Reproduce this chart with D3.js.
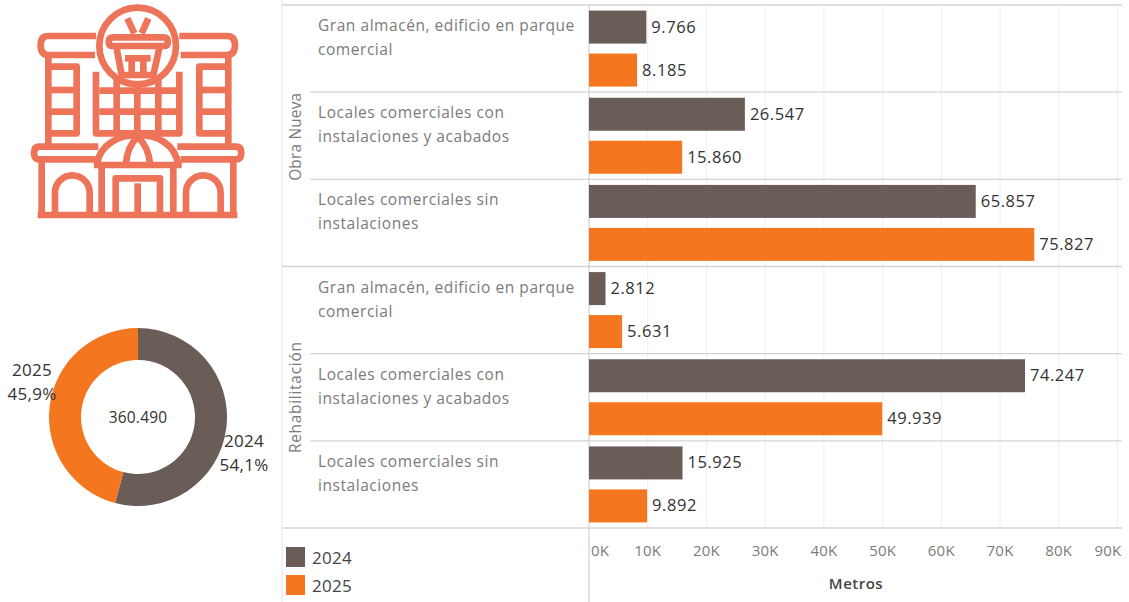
<!DOCTYPE html>
<html lang="es">
<head>
<meta charset="UTF-8">
<title>Metros por tipo de local</title>
<script src="https://d3js.org/d3.v7.min.js"></script>
<style>
  html, body { margin: 0; padding: 0; background: #fff; overflow: hidden; }
  svg { display: block; font-family: "Open Sans", sans-serif; }
</style>
</head>
<body>
<svg id="chart" width="1129" height="602"></svg>
<script>
// data
const years = ["2024", "2025"];
const groups = ["Obra Nueva", "Rehabilitación"];
const categoryLines = [
  ["Gran almacén, edificio en parque", "comercial"],
  ["Locales comerciales con", "instalaciones y acabados"],
  ["Locales comerciales sin", "instalaciones"]
];
const values2024 = [9766, 26547, 65857, 2812, 74247, 15925];
const values2025 = [8185, 15860, 75827, 5631, 49939, 9892];
const axisTicks = [0, 10000, 20000, 30000, 40000, 50000, 60000, 70000, 80000, 90000];
const donutValues = [195154, 165334];
const donutPercents = ["54,1%", "45,9%"];
const donutTotal = 360490;

const colors = { "2024": "#6a5d58", "2025": "#f4761f" };
const icon = "#ed7459";
const es = d3.formatLocale({ decimal: ",", thousands: ".", grouping: [3], currency: ["", ""] });
const num = es.format(",d");

const svg = d3.select("#chart");

// scales
const x = d3.scaleLinear().domain([0, 90000]).range([589, 1117.5]);
const rows = d3.scaleBand().domain(d3.range(6)).range([5, 528]);
const inner = d3.scaleBand().domain(years).range([0, rows.bandwidth()])
  .paddingInner(0.2326).paddingOuter(0.13);

// gridlines
svg.append("g").selectAll("line").data(axisTicks.slice(1)).join("line")
  .attr("x1", d => x(d)).attr("x2", d => x(d))
  .attr("y1", 5).attr("y2", 528)
  .attr("stroke", "#efefef");

// row separators
svg.append("g").selectAll("line").data(d3.range(7)).join("line")
  .attr("x1", i => i % 3 === 0 ? 282 : 310)
  .attr("x2", 1122)
  .attr("y1", i => i === 6 ? 528 : rows(i))
  .attr("y2", i => i === 6 ? 528 : rows(i))
  .attr("stroke", "#d4d4d4").attr("stroke-width", 1.3);

svg.append("line").attr("x1", 589).attr("x2", 589).attr("y1", 5).attr("y2", 602)
  .attr("stroke", "#d4d4d4").attr("stroke-width", 1.3);
svg.append("line").attr("x1", 282).attr("x2", 282).attr("y1", 0).attr("y2", 602)
  .attr("stroke", "#e4e4e4");

// bars
const series = years.map((y, s) => (s === 0 ? values2024 : values2025).map((v, i) => ({ y, i, v })));
const barData = series.flat();
svg.append("g").selectAll("rect").data(barData).join("rect")
  .attr("x", x(0))
  .attr("y", d => rows(d.i) + inner(d.y))
  .attr("width", d => x(d.v) - x(0))
  .attr("height", inner.bandwidth())
  .attr("fill", d => colors[d.y]);

svg.append("g").selectAll("text").data(barData).join("text")
  .attr("x", d => x(d.v) + 5)
  .attr("y", d => rows(d.i) + inner(d.y) + inner.bandwidth() / 2 + 5.5)
  .attr("font-size", 16.5).attr("letter-spacing", 0.55).attr("fill", "#333")
  .text(d => num(d.v));

// category labels
d3.range(6).forEach(i => {
  const lines = categoryLines[i % 3];
  lines.forEach((t, j) => {
    svg.append("text")
      .attr("x", 318).attr("y", rows(i) + 26 + j * 24)
      .attr("font-size", 15.5).attr("letter-spacing", 0.55).attr("fill", "#7b7b7b")
      .text(t);
  });
});

// group labels
groups.forEach((g, k) => {
  svg.append("text")
    .attr("transform", `translate(301,${rows(k * 3) + rows.bandwidth() * 1.5 + (k === 0 ? 1 : 0)}) rotate(-90)`)
    .attr("text-anchor", "middle")
    .attr("font-size", 15.4).attr("letter-spacing", k === 0 ? 0.2 : 0.75).attr("fill", "#7b7b7b")
    .text(g);
});

// x axis labels
svg.append("g").selectAll("text").data(axisTicks).join("text")
  .attr("x", d => d === 0 ? x(0) + 2 : d === 90000 ? x(d) + 4 : x(d))
  .attr("y", 556)
  .attr("text-anchor", d => d === 0 ? "start" : d === 90000 ? "end" : "middle")
  .attr("font-size", 15).attr("letter-spacing", 0.2).attr("fill", "#7b7b7b")
  .text(d => d / 1000 + "K");

svg.append("text").attr("x", 856).attr("y", 589).attr("text-anchor", "middle")
  .attr("font-size", 15).attr("letter-spacing", 0.5).attr("font-weight", 600).attr("fill", "#444")
  .text("Metros");

// legend
const legend = svg.append("g").selectAll("g").data(years).join("g")
  .attr("transform", (d, i) => `translate(286,${547 + i * 28})`);
legend.append("rect").attr("width", 19).attr("height", 20).attr("fill", d => colors[d]);
legend.append("text").attr("x", 26).attr("y", 17).attr("font-size", 17).attr("letter-spacing", 0.3).attr("fill", "#444").text(d => d);

// donut
const pie = d3.pie().sort(null);
const arc = d3.arc().innerRadius(57).outerRadius(89);
const donut = svg.append("g").attr("transform", "translate(138,417)");
donut.selectAll("path").data(pie(donutValues)).join("path")
  .attr("d", arc).attr("fill", (d, i) => colors[years[i]]);
donut.append("text").attr("y", 6).attr("text-anchor", "middle")
  .attr("font-size", 15.5).attr("letter-spacing", 0.2).attr("fill", "#333").text(num(donutTotal));

const donutLabels = svg.append("g").attr("font-size", 17).attr("letter-spacing", 0.3).attr("fill", "#333").attr("text-anchor", "middle");
[[244, 447, 0], [32, 376, 1]].forEach(([lx, ly, i]) => {
  donutLabels.append("text").attr("x", lx).attr("y", ly).text(years[i]);
  donutLabels.append("text").attr("x", lx).attr("y", ly + 24).text(donutPercents[i]);
});

// building icon, drawn in a 3x space
const b = svg.append("g").attr("transform", "translate(20,0) scale(0.3333)")
  .attr("fill", "none").attr("stroke", icon).attr("stroke-width", 20)
  .attr("stroke-linejoin", "round");
const buildingPaths = [
  "M228,108 H85 Q62,108 62,135 Q62,165 85,165 H225",
  "M478,108 H620 Q645,108 645,135 Q645,165 620,165 H482",
  "M85,165 V435", "M625,165 V435",
  "M90,200 H170 V400 H90", "M90,270 H170", "M90,335 H170",
  "M620,200 H538 V400 H620", "M538,270 H620", "M538,335 H620",
  "M228,215 V400 H478 V215",
  "M238,272 H470", "M238,335 H470",
  "M290,225 V400", "M352,225 V405", "M415,225 V400",
  "M235,440 H58 Q42,440 42,458 Q42,478 58,478 H225",
  "M472,440 H648 Q664,440 664,458 Q664,478 648,478 H482",
  "M230,495 C240,430 300,405 353,405 C410,405 465,430 475,495",
  "M353,410 Q322,440 318,490", "M353,410 Q385,440 390,490",
  "M222,495 H485",
  "M65,480 V645", "M640,480 V645", "M53,645 H652",
  "M105,640 V578 A52,52 0 0 1 209,578 V640",
  "M498,640 V578 A52,52 0 0 1 602,578 V640",
  "M245,495 V640", "M460,495 V640",
  "M287,640 V535 H420 V640", "M353,550 V640"
];
const basketPaths = [
  "M280,112 H430 Q444,112 444,125 Q444,138 430,138 H280 Q266,138 266,125 Q266,112 280,112",
  "M290,145 L305,225 H400 L418,145",
  "M322,55 L343,100", "M385,55 L365,100",
  "M315,175 H392", "M335,175 V222", "M370,175 V222"
];
b.append("g").selectAll("path").data(buildingPaths).join("path").attr("d", d => d);
b.append("circle").attr("cx", 353).attr("cy", 138).attr("r", 115).attr("fill", "#fff");
b.append("g").selectAll("path").data(basketPaths).join("path").attr("d", d => d);
</script>
</body>
</html>
